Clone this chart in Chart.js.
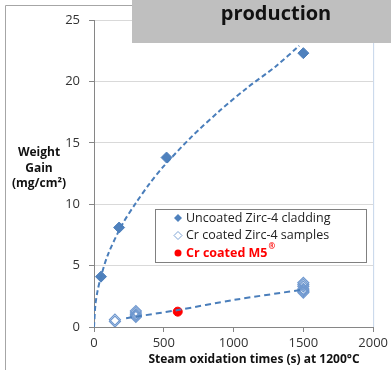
<!DOCTYPE html>
<html lang="en">
<head>
  <meta charset="UTF-8">
  <title>Weight gain vs steam oxidation time</title>
  <script src="https://cdn.jsdelivr.net/npm/chart.js"></script>
  <style>
    html, body { margin: 0; padding: 0; background: #fff; }
    #wrap { width: 391px; height: 370px; }
  </style>
</head>
<body>
  <div id="wrap">
    <canvas id="myChart" width="391" height="370"></canvas>
  </div>

  <script>
    // Data
    const uncoatedTimes = [50, 180, 520, 1500];
    const uncoatedGain = [4.1, 8.1, 13.8, 22.3];

    const crTimes = [150, 150, 300, 300, 300, 300, 300, 1500, 1500, 1500, 1500, 1500, 1500, 1500];
    const crGain = [0.6, 0.45, 1.3, 1.15, 1.0, 0.9, 0.82, 3.6, 3.45, 3.3, 3.1, 3.0, 2.9, 2.8];

    const m5Times = [600];
    const m5Gain = [1.25];

    // dashed trend lines
    const uncoatedFitTimes = [0, 10, 25, 50, 100, 200, 300, 400, 500, 700, 900, 1100, 1300, 1470];
    const uncoatedFitGain = [0, 1.8, 2.9, 4.1, 5.9, 8.3, 10.1, 11.7, 13.1, 15.5, 17.6, 19.5, 21.2, 22.9];
    const crFitTimes = [230, 600, 1000, 1500];
    const crFitGain = [0.72, 1.38, 2.2, 3.05];

    const seriesNames = ['Uncoated Zirc-4 cladding', 'Cr coated Zirc-4 samples', 'Cr coated M5'];
    const xTitle = 'Steam oxidation times (s) at 1200°C';
    const yTitle = ['Weight', 'Gain', '(mg/cm²)'];
    const bannerText = 'production';

    const toPoints = (xs, ys) => xs.map((x, i) => ({ x: x, y: ys[i] }));

    const blue = '#4f81bd';
    const lineBlue = '#4a7ebb';

    Chart.defaults.font.family = "'Open Sans', sans-serif";
    Chart.defaults.color = '#333';

    // frame, titles, legend and the grey banner
    const decorations = {
      id: 'decorations',
      beforeDraw(chart) {
        const c = chart.ctx;
        c.save();
        c.fillStyle = '#fff';
        c.fillRect(0, 0, chart.width, chart.height);
        c.strokeStyle = '#a6a6a6';
        c.lineWidth = 1;
        c.beginPath();
        c.moveTo(5.5, chart.height);
        c.lineTo(5.5, 5.5);
        c.lineTo(chart.width, 5.5);
        c.stroke();
        const a = chart.chartArea;
        c.strokeStyle = '#c5d5ea';
        c.beginPath();
        c.moveTo(a.left, a.top + 0.5);
        c.lineTo(a.right + 0.5, a.top + 0.5);
        c.lineTo(a.right + 0.5, a.bottom);
        c.stroke();
        c.restore();
      },
      afterDraw(chart) {
        const c = chart.ctx;
        c.save();
        // axis titles
        c.fillStyle = '#111';
        c.font = "bold 12px 'Open Sans'";
        c.textAlign = 'center';
        c.textBaseline = 'middle';
        c.fillText(xTitle, 254, 360);
        yTitle.forEach((t, i) => c.fillText(t, 39, 153 + i * 15.5));

        // legend
        const lx = 155.5, ly = 209.5, lw = 211, lh = 53;
        c.fillStyle = '#fff';
        c.fillRect(lx, ly, lw, lh);
        c.strokeStyle = '#808080';
        c.lineWidth = 1;
        c.strokeRect(lx, ly, lw, lh);
        const rows = [218, 235.5, 253];
        const mx = 178;
        // filled diamond
        c.fillStyle = blue;
        c.beginPath();
        c.moveTo(mx, rows[0] - 4); c.lineTo(mx + 4, rows[0]); c.lineTo(mx, rows[0] + 4); c.lineTo(mx - 4, rows[0]);
        c.closePath(); c.fill();
        // open diamond
        c.strokeStyle = '#7fa5d6';
        c.beginPath();
        c.moveTo(mx, rows[1] - 4); c.lineTo(mx + 4, rows[1]); c.lineTo(mx, rows[1] + 4); c.lineTo(mx - 4, rows[1]);
        c.closePath(); c.stroke();
        // red dot
        c.fillStyle = '#ff0000';
        c.beginPath();
        c.arc(mx, rows[2], 3.5, 0, Math.PI * 2);
        c.fill();

        c.textAlign = 'left';
        c.fillStyle = '#222';
        c.font = "12.5px 'Open Sans'";
        c.fillText(seriesNames[0], 186, rows[0]);
        c.fillText(seriesNames[1], 186, rows[1]);
        c.fillStyle = '#ff0000';
        c.font = "bold 12.5px 'Open Sans'";
        c.fillText(seriesNames[2], 186, rows[2]);
        const w = c.measureText(seriesNames[2]).width;
        c.font = "bold 8px 'Open Sans'";
        c.fillText('®', 186 + w + 1, rows[2] - 6);

        // grey banner from the slide
        c.fillStyle = '#bfbfbf';
        c.fillRect(132, 0, chart.width - 132, 43);
        c.fillStyle = '#111';
        c.font = "bold 20px 'Open Sans'";
        c.textAlign = 'center';
        c.fillText(bannerText, 276, 14);
        c.restore();
      }
    };

    const ctx = document.getElementById('myChart').getContext('2d');
    const myChart = new Chart(ctx, {
      type: 'scatter',
      data: {
        datasets: [
          {
            label: 'Uncoated fit',
            data: toPoints(uncoatedFitTimes, uncoatedFitGain),
            showLine: true,
            borderColor: lineBlue,
            borderWidth: 2,
            borderDash: [5, 3],
            pointRadius: 0,
            tension: 0.3
          },
          {
            label: 'Cr fit',
            data: toPoints(crFitTimes, crFitGain),
            showLine: true,
            borderColor: lineBlue,
            borderWidth: 2,
            borderDash: [6, 4],
            pointRadius: 0,
            tension: 0.3
          },
          {
            label: seriesNames[0],
            data: toPoints(uncoatedTimes, uncoatedGain),
            pointStyle: 'rectRot',
            pointRadius: 5.5,
            backgroundColor: blue,
            borderColor: blue,
            borderWidth: 1
          },
          {
            label: seriesNames[1],
            data: toPoints(crTimes, crGain),
            pointStyle: 'rectRot',
            pointRadius: 5.5,
            backgroundColor: 'rgba(255,255,255,0)',
            borderColor: '#6f98cf',
            borderWidth: 1.2
          },
          {
            label: seriesNames[2],
            data: toPoints(m5Times, m5Gain),
            pointStyle: 'circle',
            pointRadius: 4.5,
            backgroundColor: '#ff0000',
            borderColor: '#ff0000'
          }
        ]
      },
      options: {
        responsive: false,
        animation: false,
        layout: { padding: { top: 20, right: 15, left: 0, bottom: 0 } },
        plugins: {
          legend: { display: false },
          tooltip: { enabled: false }
        },
        scales: {
          x: {
            type: 'linear',
            min: 0,
            max: 2000,
            ticks: {
              stepSize: 500, font: { size: 13 }, color: '#333', padding: 3, maxRotation: 0,
              callback: v => String(v)
            },
            grid: { drawOnChartArea: false, tickColor: '#868686', tickLength: 5 },
            border: { color: '#868686' },
            afterFit(scale) { scale.height = 43; }
          },
          y: {
            min: 0,
            max: 25,
            ticks: { stepSize: 5, font: { size: 13 }, color: '#333', padding: 9 },
            grid: { color: '#d9d9d9', tickColor: '#868686', tickLength: 5 },
            border: { color: '#868686' },
            afterFit(scale) { scale.width = 94; }
          }
        }
      },
      plugins: [decorations]
    });
  </script>
</body>
</html>
